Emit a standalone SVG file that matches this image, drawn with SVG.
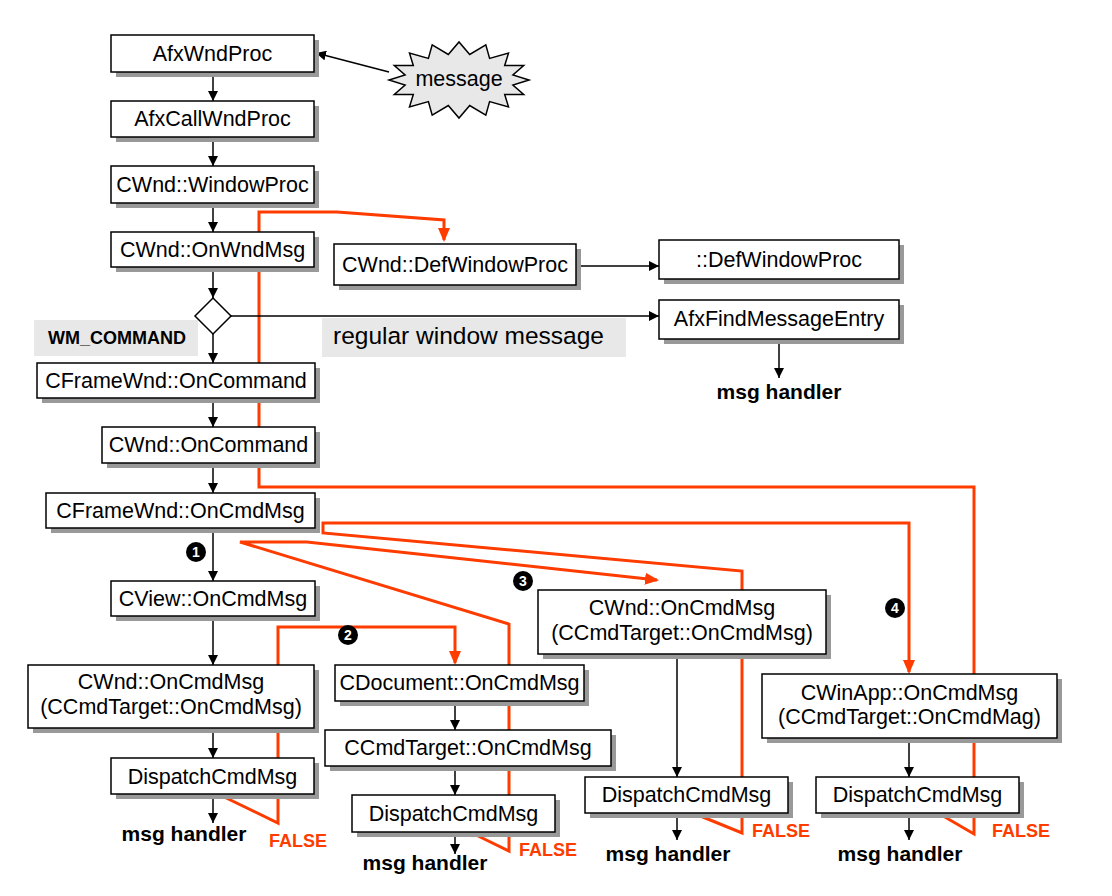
<svg xmlns="http://www.w3.org/2000/svg" width="1112" height="896" viewBox="0 0 1112 896">
<style>
.box{fill:#fff;stroke:#000;stroke-width:1.5}
.sh{fill:#999}
.t{font-family:"Liberation Sans",Arial,sans-serif;font-size:21.5px;text-anchor:middle;fill:#000}
.bold{font-family:"Liberation Sans",Arial,sans-serif;font-weight:bold;fill:#000}
.blk{stroke:#000;stroke-width:1.5;fill:none;marker-end:url(#ab)}
.red{stroke:#ff3c00;stroke-width:3;fill:none}
.fal{font-family:"Liberation Sans",Arial,sans-serif;font-weight:bold;font-size:18px;fill:#ff3c00}
.num{fill:#000}
.numt{font-family:"Liberation Sans",Arial,sans-serif;font-weight:bold;font-size:14px;fill:#fff;text-anchor:middle}
.lbl{fill:#e8e8e8}
</style>
<defs>
<marker id="ab" markerUnits="userSpaceOnUse" viewBox="0 0 10 10" refX="10" refY="5" markerWidth="10" markerHeight="10" orient="auto"><path d="M0,0 L10,5 L0,10 z" fill="#000"/></marker>
<marker id="ar" markerUnits="userSpaceOnUse" viewBox="0 0 14 12" refX="12" refY="6" markerWidth="14" markerHeight="12" orient="auto"><path d="M0,0 L14,6 L0,12 z" fill="#ff3c00"/></marker>
</defs>
<rect width="1112" height="896" fill="#fff"/>

<g id="connectors">
  <path class="red" d="M218,794 L278,823 L278,627 L455,627 L455,663" marker-end="url(#ar)"/>
  <path class="red" d="M470,832 L509,851 L509,624 L240,542 L307,542 L657,580" marker-end="url(#ar)"/>
  <path class="red" d="M693,813 L742,833 L742,571 L323,533 L323,523 L909,523 L909,672" marker-end="url(#ar)"/>
  <path class="red" d="M938,813 L974,834 L974,487 L259,487 L259,212 L337,212 L444,220 L444,240" marker-end="url(#ar)"/>

  <line class="blk" x1="389" y1="72" x2="316" y2="53"/>
  <line class="blk" x1="213" y1="72" x2="213" y2="101"/>
  <line class="blk" x1="213" y1="137" x2="213" y2="166"/>
  <line class="blk" x1="213" y1="203" x2="213" y2="232"/>
  <line class="blk" x1="213" y1="267" x2="213" y2="298"/>
  <line class="blk" x1="213" y1="334" x2="213" y2="363"/>
  <line class="blk" x1="213" y1="398" x2="213" y2="427"/>
  <line class="blk" x1="213" y1="463" x2="213" y2="493"/>
  <line class="blk" x1="213" y1="528" x2="213" y2="581"/>
  <line class="blk" x1="213" y1="616" x2="213" y2="665"/>
  <line class="blk" x1="213" y1="728" x2="213" y2="758"/>
  <line class="blk" x1="213" y1="794" x2="213" y2="823"/>
  <line class="blk" x1="231" y1="316" x2="659" y2="316"/>
  <line class="blk" x1="576" y1="266" x2="659" y2="266"/>
  <line class="blk" x1="779" y1="339" x2="779" y2="378"/>
  <line class="blk" x1="455" y1="701" x2="455" y2="730"/>
  <line class="blk" x1="455" y1="766" x2="455" y2="795"/>
  <line class="blk" x1="455" y1="832" x2="455" y2="854"/>
  <line class="blk" x1="677" y1="654" x2="677" y2="777"/>
  <line class="blk" x1="677" y1="813" x2="677" y2="840"/>
  <line class="blk" x1="909" y1="738" x2="909" y2="777"/>
  <line class="blk" x1="909" y1="813" x2="909" y2="840"/>
</g>

<g id="message">
  <polygon points="529,80 512.9,85.1 523.7,94.5 504.7,94.4 508.5,106.9 489.6,101.6 485.8,115.1 469.7,105.5 459,118 448.3,105.5 432.2,115.1 428.4,101.6 409.5,106.9 413.3,94.4 394.3,94.5 405.1,85.1 389,80 405.1,74.9 394.3,65.5 413.3,65.6 409.5,53.1 428.4,58.4 432.2,44.9 448.3,54.5 459,42 469.7,54.5 485.8,44.9 489.6,58.4 508.5,53.1 504.7,65.6 523.7,65.5 512.9,74.9" fill="#e8e8e8" stroke="#000" stroke-width="1.5"/>
  <text class="t" x="459" y="86">message</text>
</g>

<g id="n-afxwndproc"><rect class="sh" x="116" y="40" width="203" height="37"/><rect class="box" x="111" y="35" width="203" height="37"/><text class="t" x="212.5" y="61">AfxWndProc</text></g>
<g id="n-afxcallwndproc"><rect class="sh" x="116" y="106" width="203" height="36"/><rect class="box" x="111" y="101" width="203" height="36"/><text class="t" x="212.5" y="126">AfxCallWndProc</text></g>
<g id="n-windowproc"><rect class="sh" x="116" y="171" width="203" height="37"/><rect class="box" x="111" y="166" width="203" height="37"/><text class="t" x="212.5" y="192">CWnd::WindowProc</text></g>
<g id="n-onwndmsg"><rect class="sh" x="116" y="237" width="203" height="35"/><rect class="box" x="111" y="232" width="203" height="35"/><text class="t" x="212.5" y="257">CWnd::OnWndMsg</text></g>
<g id="n-decision"><polygon points="213,298 231,316 213,334 195,316" fill="#fff" stroke="#000" stroke-width="1.5"/></g>
<g id="l-wmcommand"><rect class="lbl" x="34" y="320" width="164" height="36"/><text class="bold" x="117" y="344" font-size="18" text-anchor="middle">WM_COMMAND</text></g>
<g id="l-regular"><rect class="lbl" x="322" y="318" width="304" height="39"/><text x="333" y="344" font-family="Liberation Sans, Arial, sans-serif" font-size="24.5" fill="#000">regular window message</text></g>
<g id="n-frame-oncommand"><rect class="sh" x="42" y="368" width="278" height="35"/><rect class="box" x="37" y="363" width="278" height="35"/><text class="t" x="176" y="388">CFrameWnd::OnCommand</text></g>
<g id="n-wnd-oncommand"><rect class="sh" x="107" y="432" width="213" height="36"/><rect class="box" x="102" y="427" width="213" height="36"/><text class="t" x="208.5" y="452">CWnd::OnCommand</text></g>
<g id="n-frame-oncmdmsg"><rect class="sh" x="51" y="498" width="269" height="35"/><rect class="box" x="46" y="493" width="269" height="35"/><text class="t" x="180.5" y="518">CFrameWnd::OnCmdMsg</text></g>
<g id="n-view"><rect class="sh" x="116" y="586" width="204" height="35"/><rect class="box" x="111" y="581" width="204" height="35"/><text class="t" x="213" y="606">CView::OnCmdMsg</text></g>
<g id="n-view-wnd"><rect class="sh" x="33" y="670" width="286" height="63"/><rect class="box" x="28" y="665" width="286" height="63"/><text class="t" x="171" y="689">CWnd::OnCmdMsg</text><text class="t" x="171" y="714">(CCmdTarget::OnCmdMsg)</text></g>
<g id="n-dispatch1"><rect class="sh" x="116" y="763" width="203" height="36"/><rect class="box" x="111" y="758" width="203" height="36"/><text class="t" x="212.5" y="784">DispatchCmdMsg</text></g>
<g id="n-defwindowproc"><rect class="sh" x="339" y="249" width="242" height="41"/><rect class="box" x="334" y="244" width="242" height="41"/><text class="t" x="455" y="272">CWnd::DefWindowProc</text></g>
<g id="n-apidefwindowproc"><rect class="sh" x="664" y="245" width="240" height="39"/><rect class="box" x="659" y="240" width="240" height="39"/><text class="t" x="779" y="267">::DefWindowProc</text></g>
<g id="n-afxfind"><rect class="sh" x="664" y="305" width="240" height="39"/><rect class="box" x="659" y="300" width="240" height="39"/><text class="t" x="779" y="326">AfxFindMessageEntry</text></g>
<g id="n-document"><rect class="sh" x="340" y="670" width="249" height="36"/><rect class="box" x="335" y="665" width="249" height="36"/><text class="t" x="459.5" y="690">CDocument::OnCmdMsg</text></g>
<g id="n-doc-cmdtarget"><rect class="sh" x="330" y="735" width="286" height="36"/><rect class="box" x="325" y="730" width="286" height="36"/><text class="t" x="468" y="755">CCmdTarget::OnCmdMsg</text></g>
<g id="n-dispatch2"><rect class="sh" x="357" y="800" width="203" height="37"/><rect class="box" x="352" y="795" width="203" height="37"/><text class="t" x="453.5" y="821">DispatchCmdMsg</text></g>
<g id="n-frame-wnd"><rect class="sh" x="543" y="595" width="288" height="64"/><rect class="box" x="538" y="590" width="288" height="64"/><text class="t" x="682" y="615">CWnd::OnCmdMsg</text><text class="t" x="682" y="640">(CCmdTarget::OnCmdMsg)</text></g>
<g id="n-dispatch3"><rect class="sh" x="590" y="782" width="203" height="36"/><rect class="box" x="585" y="777" width="203" height="36"/><text class="t" x="686.5" y="802">DispatchCmdMsg</text></g>
<g id="n-winapp"><rect class="sh" x="767" y="679" width="295" height="64"/><rect class="box" x="762" y="674" width="295" height="64"/><text class="t" x="909.5" y="700">CWinApp::OnCmdMsg</text><text class="t" x="909.5" y="724">(CCmdTarget::OnCmdMag)</text></g>
<g id="n-dispatch4"><rect class="sh" x="821" y="782" width="203" height="36"/><rect class="box" x="816" y="777" width="203" height="36"/><text class="t" x="917.5" y="802">DispatchCmdMsg</text></g>

<g id="handlers" class="bold" font-size="21" text-anchor="middle">
  <text x="779" y="399">msg handler</text>
  <text x="184" y="841">msg handler</text>
  <text x="425" y="870">msg handler</text>
  <text x="668" y="861">msg handler</text>
  <text x="900" y="861">msg handler</text>
</g>

<g id="false-labels">
  <text class="fal" x="269" y="847">FALSE</text>
  <text class="fal" x="519" y="856">FALSE</text>
  <text class="fal" x="752" y="837">FALSE</text>
  <text class="fal" x="992" y="837">FALSE</text>
</g>

<g id="step-numbers">
  <circle class="num" cx="196" cy="552" r="10"/><text class="numt" x="196" y="557">1</text>
  <circle class="num" cx="348" cy="635" r="10"/><text class="numt" x="348" y="640">2</text>
  <circle class="num" cx="523" cy="581" r="10"/><text class="numt" x="523" y="586">3</text>
  <circle class="num" cx="895" cy="608" r="10"/><text class="numt" x="895" y="613">4</text>
</g>
</svg>
